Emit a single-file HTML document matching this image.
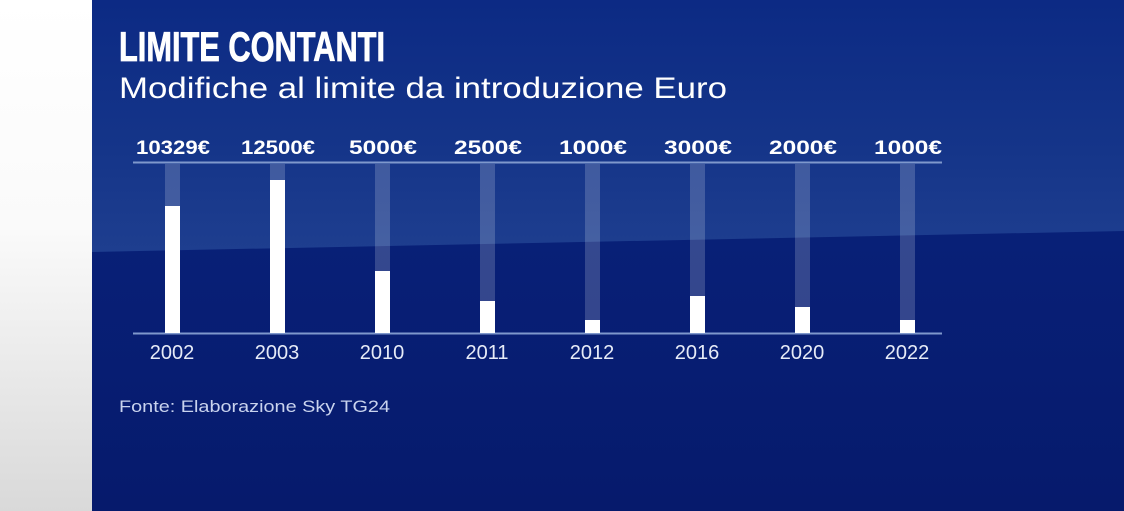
<!DOCTYPE html>
<html><head><meta charset="utf-8"><style>
html,body{margin:0;padding:0;width:1124px;height:511px;overflow:hidden;background:#fff}
svg{display:block}
</style></head><body>
<svg width="1124" height="511" viewBox="0 0 1124 511" xmlns="http://www.w3.org/2000/svg">
<defs>
<linearGradient id="lw" x1="0" y1="0" x2="0" y2="1">
<stop offset="0" stop-color="#ffffff"/><stop offset="0.45" stop-color="#fafafa"/><stop offset="1" stop-color="#d9d9d9"/></linearGradient>
<linearGradient id="top" x1="0" y1="0" x2="0" y2="1">
<stop offset="0" stop-color="#0c2a84"/><stop offset="0.6" stop-color="#153589"/><stop offset="1" stop-color="#1e3e8f"/></linearGradient>
<linearGradient id="bot" x1="0" y1="0" x2="0" y2="1">
<stop offset="0" stop-color="#0a2581"/><stop offset="1" stop-color="#061a6c"/></linearGradient>
</defs>
<rect x="0" y="0" width="92" height="511" fill="url(#lw)"/>
<rect x="92" y="0" width="1032" height="511" fill="url(#bot)"/>
<polygon points="92,0 1124,0 1124,231 92,252" fill="url(#top)"/>
<text x="119" y="61" font-family="Liberation Sans Narrow, Liberation Sans, sans-serif" font-weight="bold" font-size="42" fill="#fff" stroke="#fff" stroke-width="0.8" textLength="266" lengthAdjust="spacingAndGlyphs">LIMITE CONTANTI</text>
<text x="119" y="98" font-family="Liberation Sans, sans-serif" font-size="30" fill="#fff" textLength="608" lengthAdjust="spacingAndGlyphs">Modifiche al limite da introduzione Euro</text>
<line x1="133" y1="162.5" x2="942" y2="162.5" stroke="#7f98cc" stroke-width="2"/>
<line x1="133" y1="333.5" x2="942" y2="333.5" stroke="#7f98cc" stroke-width="2"/>
<g fill="#fff" fill-opacity="0.18">
<rect x="165" y="164" width="15" height="169"/><rect x="270" y="164" width="15" height="169"/>
<rect x="375" y="164" width="15" height="169"/><rect x="480" y="164" width="15" height="169"/>
<rect x="585" y="164" width="15" height="169"/><rect x="690" y="164" width="15" height="169"/>
<rect x="795" y="164" width="15" height="169"/><rect x="900" y="164" width="15" height="169"/>
</g>
<g fill="#fff">
<rect x="165" y="206" width="15" height="127"/><rect x="270" y="180" width="15" height="153"/>
<rect x="375" y="271" width="15" height="62"/><rect x="480" y="301" width="15" height="32"/>
<rect x="585" y="320" width="15" height="13"/><rect x="690" y="296" width="15" height="37"/>
<rect x="795" y="307" width="15" height="26"/><rect x="900" y="320" width="15" height="13"/>
</g>
<g font-family="Liberation Sans, sans-serif" font-weight="bold" font-size="19" fill="#fff" text-anchor="middle">
<text x="173" y="154" textLength="74" lengthAdjust="spacingAndGlyphs">10329€</text><text x="278" y="154" textLength="74" lengthAdjust="spacingAndGlyphs">12500€</text>
<text x="383" y="154" textLength="68" lengthAdjust="spacingAndGlyphs">5000€</text><text x="488" y="154" textLength="68" lengthAdjust="spacingAndGlyphs">2500€</text>
<text x="593" y="154" textLength="68" lengthAdjust="spacingAndGlyphs">1000€</text><text x="698" y="154" textLength="68" lengthAdjust="spacingAndGlyphs">3000€</text>
<text x="803" y="154" textLength="68" lengthAdjust="spacingAndGlyphs">2000€</text><text x="908" y="154" textLength="68" lengthAdjust="spacingAndGlyphs">1000€</text>
</g>
<g font-family="Liberation Sans, sans-serif" font-size="20" fill="#e6ebf7" text-anchor="middle">
<text x="172" y="359">2002</text><text x="277" y="359">2003</text><text x="382" y="359">2010</text><text x="487" y="359">2011</text>
<text x="592" y="359">2012</text><text x="697" y="359">2016</text><text x="802" y="359">2020</text><text x="907" y="359">2022</text>
</g>
<text x="119" y="412" font-family="Liberation Sans, sans-serif" font-size="17" fill="#c9d3ee" textLength="271" lengthAdjust="spacingAndGlyphs">Fonte: Elaborazione Sky TG24</text>
</svg>
</body></html>
